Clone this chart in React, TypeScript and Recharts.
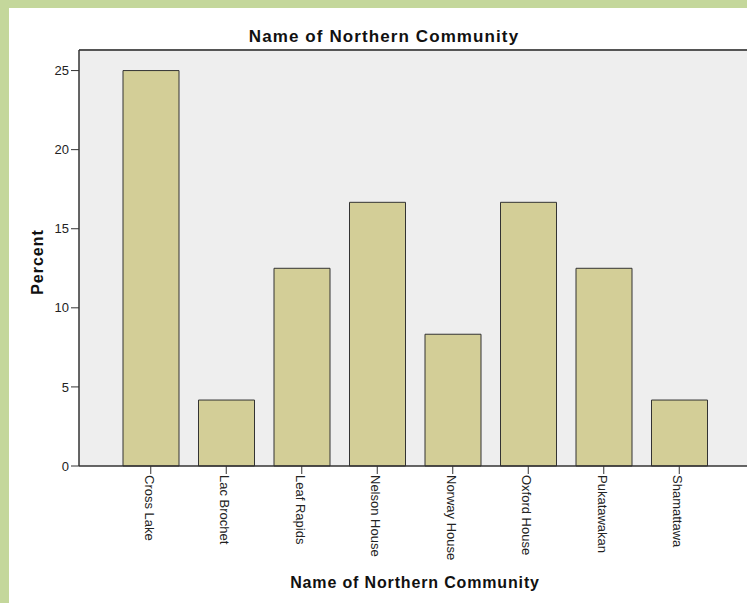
import React from 'react';
import { BarChart, Bar, XAxis, YAxis, CartesianGrid, ReferenceLine, Label } from 'recharts';

const categories = ['Cross Lake', 'Lac Brochet', 'Leaf Rapids', 'Nelson House', 'Norway House', 'Oxford House', 'Pukatawakan', 'Shamattawa'];
const percents = [25, 4.17, 12.5, 16.67, 8.33, 16.67, 12.5, 4.17];
const yTicks = [0, 5, 10, 15, 20, 25];
const yMax = 26.3;
const chartTitle = 'Name of Northern Community';
const xTitle = 'Name of Northern Community';
const yTitle = 'Percent';

const FONT = 'Arial, "Liberation Sans", sans-serif';

const XTick = (props: any) => {
  const { x, y, payload } = props;
  return (
    <text
      x={x}
      y={y}
      dy={6}
      transform={`rotate(90, ${x}, ${y})`}
      textAnchor="start"
      fontFamily={FONT}
      fontSize={13}
      fill="#222"
    >
      {payload.value}
    </text>
  );
};

export default function App() {
  const data = categories.map((c, i) => ({ name: c, value: percents[i] }));
  return (
    <div style={{ position: 'fixed', left: 0, top: 0, width: 747, height: 603, overflow: 'hidden', background: '#c4d79b' }}>
      <div style={{ position: 'absolute', left: 9, top: 8, width: 760, height: 595, background: '#ffffff' }}>
        <BarChart width={760} height={595} data={data} margin={{ top: 42, right: 18, bottom: 0, left: 0 }}>
          <CartesianGrid horizontal={false} vertical={false} fill="#eeeeee" />
          <XAxis
            dataKey="name"
            type="category"
            height={137}
            padding={{ left: 34, right: 34 }}
            tick={<XTick />}
            tickSize={8}
            tickMargin={1}
            interval={0}
            axisLine={{ stroke: '#333', strokeWidth: 1.5 }}
            tickLine={{ stroke: '#333' }}
          >
            <Label
              content={(p: any) => {
                const vb = p.viewBox || { x: 70, y: 458, width: 672, height: 137 };
                return (
                  <text
                    x={vb.x + vb.width / 2}
                    y={vb.y + vb.height - 15}
                    textAnchor="middle"
                    fontFamily={FONT}
                    fontWeight="bold"
                    fontSize={16}
                    letterSpacing={0.85}
                    fill="#111"
                  >
                    {xTitle}
                  </text>
                );
              }}
            />
          </XAxis>
          <YAxis
            type="number"
            domain={[0, yMax]}
            ticks={yTicks}
            width={70}
            tickSize={8}
            tickMargin={2}
            axisLine={{ stroke: '#333', strokeWidth: 1.5 }}
            tickLine={{ stroke: '#333' }}
            tick={{ fontFamily: FONT, fontSize: 13, fill: '#222' }}
          >
            <Label
              content={(p: any) => {
                const vb = p.viewBox || { x: 0, y: 42, width: 70, height: 416 };
                const cx = 34;
                const cy = vb.y + vb.height / 2 + 4;
                return (
                  <text
                    x={cx}
                    y={cy}
                    textAnchor="middle"
                    transform={`rotate(-90, ${cx}, ${cy})`}
                    fontFamily={FONT}
                    fontWeight="bold"
                    fontSize={16}
                    letterSpacing={1}
                    fill="#111"
                  >
                    {yTitle}
                  </text>
                );
              }}
            />
          </YAxis>
          <ReferenceLine y={yMax} stroke="#555" strokeWidth={2} />
          <Bar dataKey="value" fill="#d3ce97" stroke="#333" strokeWidth={1} barSize={56} isAnimationActive={false} />
          <text
            x={375}
            y={34}
            textAnchor="middle"
            fontFamily={FONT}
            fontWeight="bold"
            fontSize={17}
            letterSpacing={1.1}
            fill="#111"
          >
            {chartTitle}
          </text>
        </BarChart>
      </div>
    </div>
  );
}
